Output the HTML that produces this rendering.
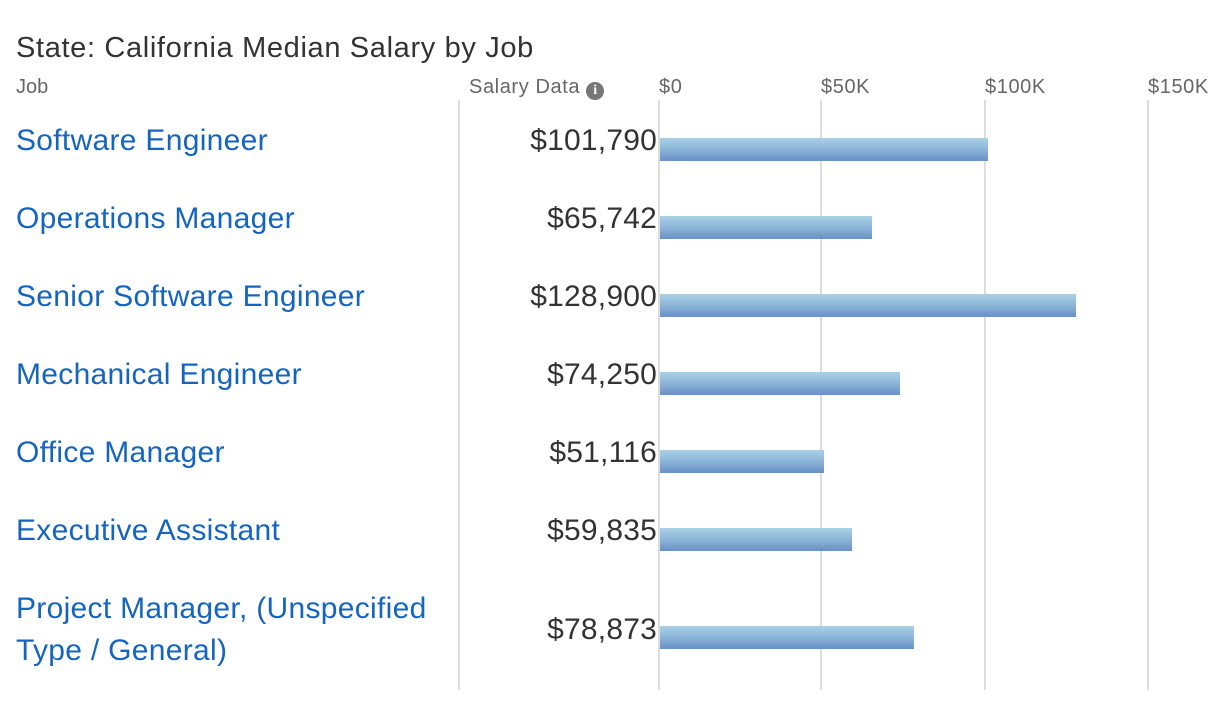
<!DOCTYPE html>
<html><head><style>
body{margin:0;width:1220px;height:704px;background:#fff;position:relative;overflow:hidden;font-family:"Liberation Sans",sans-serif;}
.a{position:absolute;white-space:nowrap;}
.g{position:absolute;top:100px;height:590px;width:2px;background:#ddd;}
.job{position:absolute;left:16px;font-size:30px;letter-spacing:0.3px;color:#1565c0;line-height:42px;white-space:nowrap;}
.val{position:absolute;right:563px;font-size:30px;letter-spacing:0.2px;color:#333;}
.bar{position:absolute;left:660px;height:23px;background:linear-gradient(#a9d1e6,#8cb4d8 50%,#6890c4);}
.t{position:absolute;top:76px;font-size:20px;letter-spacing:0.6px;color:#666;}
</style></head><body>
<div class="a" style="left:16px;top:32px;font-size:29px;letter-spacing:0.65px;color:#333;">State: California Median Salary by Job</div>
<div class="a" style="left:16px;top:76px;font-size:20px;color:#666;">Job</div>
<div class="t" style="left:469px;">Salary Data <span style="display:inline-block;width:18px;height:18px;border-radius:50%;background:#777;color:#fff;font-size:14px;font-weight:bold;text-align:center;line-height:18px;vertical-align:-1px;letter-spacing:0;font-family:'Liberation Serif',serif;">i</span></div>
<div class="t" style="left:659px;">$0</div>
<div class="t" style="left:821px;">$50K</div>
<div class="t" style="left:985px;">$100K</div>
<div class="t" style="left:1148px;">$150K</div>
<div class="g" style="left:458px"></div>
<div class="g" style="left:658px"></div>
<div class="g" style="left:820px"></div>
<div class="g" style="left:984px"></div>
<div class="g" style="left:1147px"></div>

<div class="job" style="top:120px">Software Engineer</div>
<div class="job" style="top:198px">Operations Manager</div>
<div class="job" style="top:276px">Senior Software Engineer</div>
<div class="job" style="top:354px">Mechanical Engineer</div>
<div class="job" style="top:432px">Office Manager</div>
<div class="job" style="top:510px">Executive Assistant</div>
<div class="job" style="top:588px">Project Manager, (Unspecified<br>Type / General)</div>

<div class="val" style="top:124px">$101,790</div>
<div class="val" style="top:202px">$65,742</div>
<div class="val" style="top:280px">$128,900</div>
<div class="val" style="top:358px">$74,250</div>
<div class="val" style="top:436px">$51,116</div>
<div class="val" style="top:514px">$59,835</div>
<div class="val" style="top:613px">$78,873</div>

<div class="bar" style="top:138px;width:328px"></div>
<div class="bar" style="top:216px;width:212px"></div>
<div class="bar" style="top:294px;width:416px"></div>
<div class="bar" style="top:372px;width:240px"></div>
<div class="bar" style="top:450px;width:164px"></div>
<div class="bar" style="top:528px;width:192px"></div>
<div class="bar" style="top:626px;width:254px"></div>
</body></html>
